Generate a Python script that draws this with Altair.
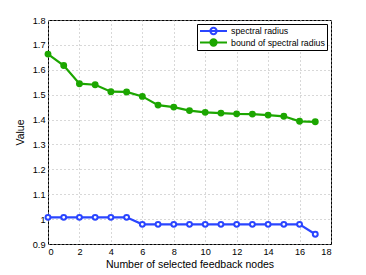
import altair as alt
import pandas as pd

nodes = list(range(18))
spectral_radius = [1.007, 1.007, 1.007, 1.007, 1.007, 1.007, 0.979, 0.979, 0.979, 0.979,
                   0.979, 0.979, 0.979, 0.979, 0.979, 0.979, 0.979, 0.939]
bound_radius = [1.663, 1.617, 1.544, 1.540, 1.512, 1.511, 1.493, 1.458, 1.450, 1.436,
                1.429, 1.426, 1.423, 1.422, 1.418, 1.413, 1.393, 1.391]
series_names = ["spectral radius", "bound of spectral radius"]
x_ticks = list(range(0, 19, 2))
y_ticks = [0.9, 1.0, 1.1, 1.2, 1.3, 1.4, 1.5, 1.6, 1.7, 1.8]

rows = []
for i, n in enumerate(nodes):
    rows.append({"n": n, "v": spectral_radius[i], "s": series_names[0]})
    rows.append({"n": n, "v": bound_radius[i], "s": series_names[1]})
df = pd.DataFrame(rows)

BLUE = "#2a45ff"
GREEN = "#1ca600"
FONT = "Liberation Sans"

x_enc = alt.X("n:Q", scale=alt.Scale(domain=[0, 18], nice=False),
              axis=alt.Axis(values=x_ticks, title="Number of selected feedback nodes"))
y_enc = alt.Y("v:Q", scale=alt.Scale(domain=[0.9, 1.8], nice=False, zero=False),
              axis=alt.Axis(values=y_ticks, format="~g", title="Value"))

stroke_scale = alt.Scale(domain=series_names, range=[BLUE, GREEN])
fill_scale = alt.Scale(domain=series_names, range=["#ffffff", GREEN])

sym = "M-3,0L3,0M0.7,0A0.7,0.7,0,1,1,-0.7,0A0.7,0.7,0,1,1,0.7,0Z"

legend = alt.Legend(title=None, orient="top-right", offset=4, symbolType=sym,
                    symbolSize=81, symbolStrokeWidth=2, strokeColor="#000000",
                    fillColor="#ffffff", padding=2, labelFont=FONT, labelFontSize=8.8,
                    labelColor="#000000", rowPadding=1.5, labelOffset=12, symbolOffset=9,
                    cornerRadius=0, clipHeight=10)

line = alt.Chart(df).mark_line(strokeWidth=2.2).encode(
    x=x_enc, y=y_enc,
    stroke=alt.Stroke("s:N", scale=stroke_scale, legend=legend, sort=series_names),
)
pts = alt.Chart(df).mark_point(size=24, strokeWidth=2, opacity=1, filled=False).encode(
    x=x_enc, y=y_enc,
    stroke=alt.Stroke("s:N", scale=stroke_scale, legend=legend, sort=series_names),
    fill=alt.Fill("s:N", scale=fill_scale, legend=legend, sort=series_names),
)

chart = alt.layer(line, pts).properties(
    width=283, height=224,
    autosize=alt.AutoSizeParams(type="none"),
    padding={"left": 40, "top": 12, "right": 20, "bottom": 30},
    background="#ffffff",
).configure_view(stroke="#000000", strokeWidth=1).configure_axis(
    labelFont=FONT, labelFontSize=9.2, labelColor="#000000",
    titleFont=FONT, titleFontSize=10.5, titleFontWeight="normal", titleColor="#000000",
    grid=True, gridColor="#b0b0b0", gridDash=[1, 3], gridWidth=1,
    domain=False, ticks=True, tickColor="#000000", tickSize=0, labelPadding=3,
).configure_axisY(titlePadding=7).configure_axisX(titlePadding=3)

chart.save("out.html", embed_options={"renderer": "svg", "actions": False})
